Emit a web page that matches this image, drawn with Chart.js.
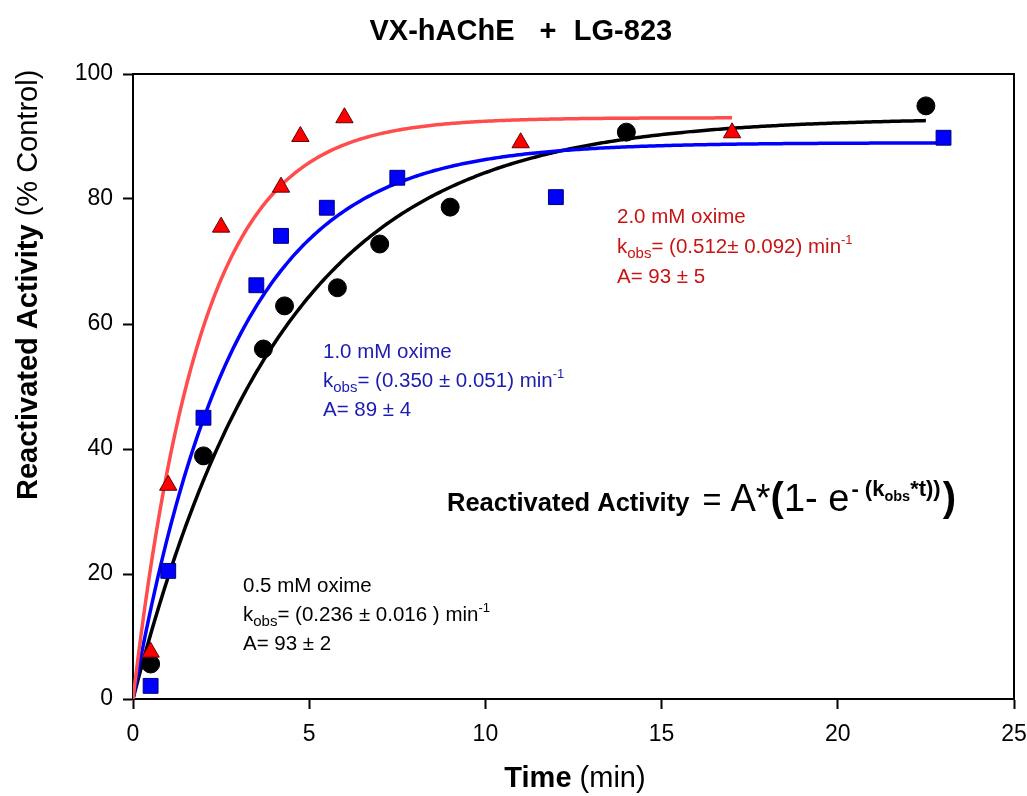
<!DOCTYPE html>
<html>
<head>
<meta charset="utf-8">
<script src="https://cdn.jsdelivr.net/npm/chart.js@4/dist/chart.umd.min.js"></script>
<style>
  html, body { margin: 0; padding: 0; background: #fff; }
  #wrap { width: 1027px; height: 796px; }
</style>
</head>
<body>
<div id="wrap"><canvas id="c" width="1027" height="796"></canvas></div>
<script>
// Measured reactivation data (time in min, activity in % of control)
const timeHalf = [0.5, 2, 3.7, 4.3, 5.8, 7, 9, 14, 22.5];
const actHalf  = [5.6, 38.9, 56, 62.9, 65.8, 72.8, 78.7, 90.7, 94.9];
const timeOne  = [0.5, 1, 2, 3.5, 4.2, 5.5, 7.5, 12, 23];
const actOne   = [2.1, 20.5, 45, 66.2, 74.1, 78.6, 83.4, 80.3, 89.8];
const timeTwo  = [0.5, 1, 2.5, 4.2, 4.75, 6, 11, 17];
const actTwo   = [7.5, 34.2, 75.5, 81.9, 90, 93, 89, 90.6];

// Fitted parameters for Activity = A*(1 - exp(-kobs*t)): 0.5, 1.0, 2.0 mM oxime
const fitLabels = ['0.5 mM oxime', '1.0 mM oxime', '2.0 mM oxime'];
const fitA      = [93, 89, 93];
const fitAErr   = [2, 4, 5];
const fitK      = [0.236, 0.350, 0.512];
const fitKErr   = [0.016, 0.051, 0.092];
const fitTEnd   = [22.5, 23, 17];

// Axis ticks
const xTicks = [0, 5, 10, 15, 20, 25];
const yTicks = [0, 20, 40, 60, 80, 100];

const pts = (xs, ys) => xs.map((x, i) => ({ x, y: ys[i] }));
function fitCurve(i) {
  const out = [];
  const n = 300;
  for (let j = 0; j <= n; j++) {
    const t = fitTEnd[i] * j / n;
    out.push({ x: t, y: fitA[i] * (1 - Math.exp(-fitK[i] * t)) });
  }
  return out;
}

const FONT = '"Liberation Sans", Arial, Helvetica, sans-serif';

// Draws a sequence of text runs with individual fonts and baseline shifts
function drawRuns(ctx, x, y, runs, color) {
  ctx.save();
  ctx.fillStyle = color;
  ctx.textBaseline = 'alphabetic';
  ctx.textAlign = 'left';
  let cx = x;
  for (const r of runs) {
    ctx.font = r.font;
    ctx.fillText(r.t, cx + (r.dx || 0), y + (r.dy || 0));
    cx += ctx.measureText(r.t).width + (r.dx || 0);
  }
  ctx.restore();
}

function fitNote(ctx, x, y, i, color, gap) {
  const f = '20.5px ' + FONT;
  const sub = '15px ' + FONT;
  const sup = '13px ' + FONT;
  drawRuns(ctx, x, y, [{ t: fitLabels[i], font: f }], color);
  const kStr = fitK[i].toFixed(3);
  const kErr = fitKErr[i].toFixed(3);
  drawRuns(ctx, x, y + gap, [
    { t: 'k', font: f },
    { t: 'obs', font: sub, dy: 5 },
    { t: '= (' + kStr + (i === 2 ? '' : ' '), font: f },
    { t: '±', font: f },
    { t: ' ' + kErr + (i === 0 ? ' ) min' : ') min'), font: f },
    { t: '-1', font: sup, dy: -9 }
  ], color);
  drawRuns(ctx, x, y + 2 * gap, [
    { t: 'A= ' + fitA[i] + ' ', font: f },
    { t: '±', font: f },
    { t: ' ' + fitAErr[i], font: f }
  ], color);
}

const decorations = {
  id: 'decorations',
  beforeDatasetsDraw(chart) {
    const { ctx, chartArea: a } = chart;
    ctx.save();
    ctx.strokeStyle = '#000';
    ctx.lineWidth = 2;
    ctx.strokeRect(a.left, a.top, a.right - a.left, a.bottom - a.top);
    ctx.restore();
  },
  afterDraw(chart) {
    const { ctx } = chart;
    // Title
    ctx.save();
    ctx.fillStyle = '#000';
    ctx.font = 'bold 29px ' + FONT;
    ctx.textAlign = 'center';
    ctx.textBaseline = 'alphabetic';
    ctx.fillText('VX-hAChE', 442, 40);
    ctx.fillText('+', 548, 40);
    ctx.fillText('LG-823', 623, 40);
    ctx.restore();

    // X axis title
    ctx.save();
    const xb = 'bold 29px ' + FONT, xr = '29px ' + FONT;
    ctx.font = xb; const w1 = ctx.measureText('Time').width;
    ctx.font = xr; const w2 = ctx.measureText(' (min)').width;
    const xs = 575 - (w1 + w2) / 2;
    drawRuns(ctx, xs, 787, [{ t: 'Time', font: xb }, { t: ' (min)', font: xr }], '#000');
    ctx.restore();

    // Y axis title
    ctx.save();
    ctx.translate(37, 500);
    ctx.rotate(-Math.PI / 2);
    const yb = 'bold 29px ' + FONT, yr = '29px ' + FONT;
    drawRuns(ctx, 0, 0, [{ t: 'Reactivated Activity', font: yb }, { t: ' (% Control)', font: yr }], '#000');
    ctx.restore();

    // Fit annotations
    fitNote(ctx, 617, 223, 2, '#c81414', 30);
    fitNote(ctx, 323, 358, 1, '#1c1cb4', 29);
    fitNote(ctx, 243, 592, 0, '#000', 29);

    // Model equation
    drawRuns(ctx, 447, 511, [
      { t: 'Reactivated Activity ', font: 'bold 25.5px ' + FONT },
      { t: '= ', font: '32.5px ' + FONT, dx: 6 },
      { t: 'A*', font: '38px ' + FONT },
      { t: '(', font: 'bold 40px ' + FONT },
      { t: '1- e', font: '38px ' + FONT },
      { t: '- (k', font: 'bold 22px ' + FONT, dy: -15, dx: 2 },
      { t: 'obs', font: 'bold 14.5px ' + FONT, dy: -10 },
      { t: '*t))', font: 'bold 22px ' + FONT, dy: -15 },
      { t: ')', font: 'bold 40px ' + FONT, dx: 2 }
    ], '#000');
  }
};

const pointBase = { showLine: false, borderWidth: 1, pointBorderWidth: 1, clip: false };
const lineBase = { showLine: true, pointRadius: 0, borderWidth: 3.5, fill: false, tension: 0 };

new Chart(document.getElementById('c'), {
  type: 'scatter',
  data: {
    datasets: [
      Object.assign({ label: 'Fit 0.5 mM', data: fitCurve(0), borderColor: '#000000', order: 12 }, lineBase),
      Object.assign({ label: 'Fit 1.0 mM', data: fitCurve(1), borderColor: '#0000ff', order: 11 }, lineBase),
      Object.assign({ label: 'Fit 2.0 mM', data: fitCurve(2), borderColor: '#ff4c4c', order: 10 }, lineBase),
      Object.assign({ label: '0.5 mM oxime', data: pts(timeHalf, actHalf), pointStyle: 'circle', pointRadius: 9,
        backgroundColor: '#000', borderColor: '#000', order: 3 }, pointBase),
      Object.assign({ label: '1.0 mM oxime', data: pts(timeOne, actOne), pointStyle: 'rect', pointRadius: 10.5,
        backgroundColor: '#0000ff', borderColor: '#00007a', order: 2 }, pointBase),
      Object.assign({ label: '2.0 mM oxime', data: pts(timeTwo, actTwo), pointStyle: 'triangle', pointRadius: 10,
        backgroundColor: '#ff0000', borderColor: '#600000', order: 1 }, pointBase)
    ]
  },
  options: {
    responsive: false,
    animation: false,
    devicePixelRatio: 1,
    layout: { padding: { left: 0, top: 74, right: 13, bottom: 0 } },
    plugins: { legend: { display: false }, tooltip: { enabled: false }, title: { display: false } },
    scales: {
      x: {
        type: 'linear', min: 0, max: 25,
        afterFit(s) { s.height = 97; s.paddingLeft = 0; s.paddingRight = 0; },
        afterBuildTicks(s) { s.ticks = xTicks.map(v => ({ value: v })); },
        grid: { drawOnChartArea: false, drawTicks: true, tickLength: 10, tickWidth: 2, color: '#000' },
        border: { display: true, color: '#000', width: 2 },
        ticks: { color: '#000', font: { family: FONT, size: 23 }, padding: 12, maxRotation: 0 }
      },
      y: {
        type: 'linear', min: 0, max: 100,
        afterFit(s) { s.width = 133; s.paddingTop = 0; s.paddingBottom = 0; },
        afterBuildTicks(s) { s.ticks = yTicks.map(v => ({ value: v })); },
        grid: { drawOnChartArea: false, drawTicks: true, tickLength: 10, tickWidth: 2, color: '#000' },
        border: { display: true, color: '#000', width: 2 },
        ticks: { color: '#000', font: { family: FONT, size: 23 }, padding: 10 }
      }
    }
  },
  plugins: [decorations]
});
</script>
</body>
</html>
